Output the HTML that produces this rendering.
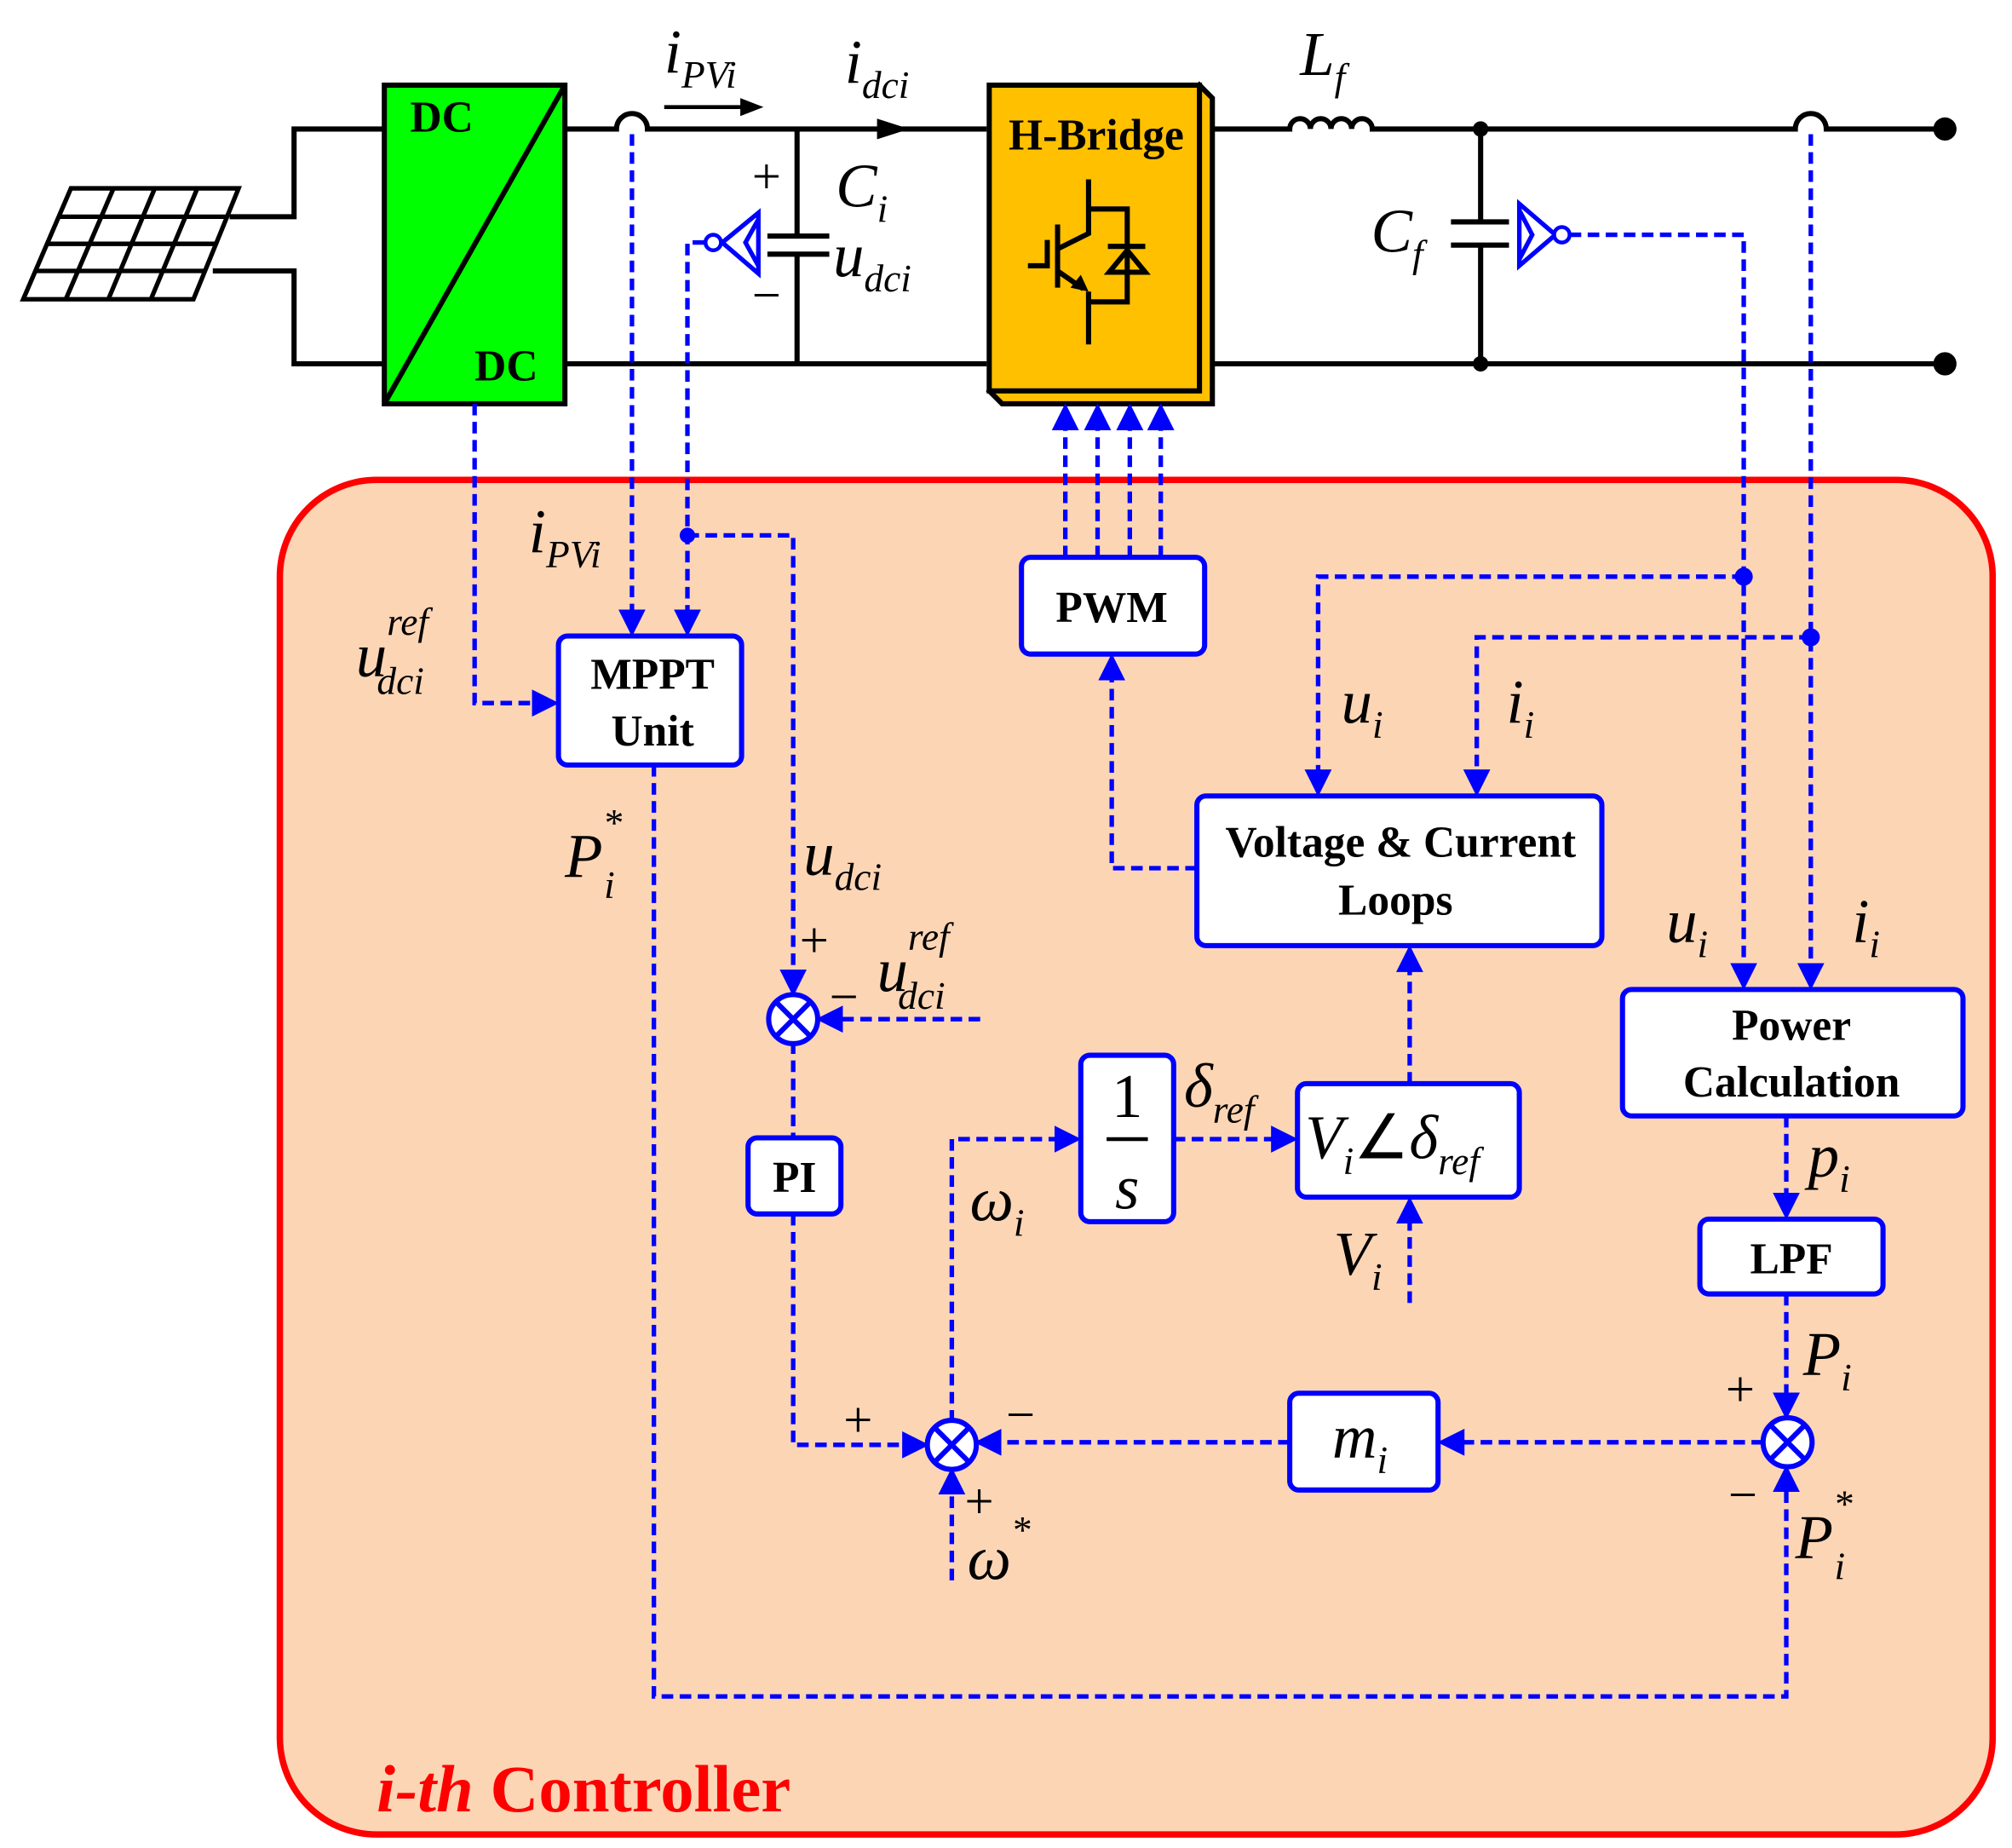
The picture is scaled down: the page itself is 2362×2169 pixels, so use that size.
<!DOCTYPE html>
<html><head><meta charset="utf-8"><style>
html,body{margin:0;padding:0;background:#fff;}
svg{display:block;}
text{font-family:"Liberation Serif",serif;}
.i{font-style:italic;font-size:48px;}
.s{font-style:italic;font-size:30px;}
.b{font-weight:bold;font-size:34px;}
.pm{font-size:40px;}
.d{stroke:#0000ff;stroke-width:3.5;stroke-dasharray:9 5;fill:none;}
.w{stroke:#000;stroke-width:4;fill:none;}
.blk{fill:#fff;stroke:#0000ff;stroke-width:4;}
</style></head><body>
<svg width="2362" height="2169" viewBox="0 0 1560 1432.5" preserveAspectRatio="none" xmlns="http://www.w3.org/2000/svg">
<defs>
<marker id="a" markerWidth="6" markerHeight="6" refX="5" refY="3" orient="auto" markerUnits="strokeWidth"><path d="M0,0 L6,3 L0,6 z" fill="#0000ff"/></marker>
</defs>
<rect x="217" y="372" width="1328" height="1050" rx="75" fill="#fcd5b5" stroke="#ff0000" stroke-width="5"/>
<text x="292" y="1404" font-size="52" font-weight="bold" fill="#ff0000"><tspan font-style="italic">i-th</tspan> Controller</text>

<g stroke="#000" stroke-width="3.5" fill="#fff">
<path d="M55,146 L185,146 L150,232 L18,232 Z"/>
<path d="M88,146 L51,232 M120,146 L84,232 M153,146 L117,232 M46,168 L176,168 M37,189 L167,189 M28,210 L159,210" fill="none"/>
</g>
<path class="w" d="M178,168 H228 V100 H298 M165,210 H228 V282 H298"/>
<rect x="298" y="66" width="140" height="247" fill="#00ff00" stroke="#000" stroke-width="4"/>
<line x1="298" y1="313" x2="438" y2="66" stroke="#000" stroke-width="4"/>
<text x="318" y="102" class="b">DC</text>
<text x="368" y="295" class="b">DC</text>
<path class="w" d="M438,100 H478 A12,12 0 0 1 502,100 H765 M438,282 H765"/>
<path d="M515,83 H580" stroke="#000" stroke-width="3"/><path d="M592,83 L574,76 L574,90 Z"/>
<path d="M705,100 L680,92 L680,108 Z"/>
<text x="515" y="56" class="i">i<tspan class="s" dy="12">PVi</tspan></text>
<text x="655" y="64" class="i">i<tspan class="s" dy="12">dci</tspan></text>
<path class="w" d="M618,100 V183 M618,197 V282 M595,183 H643 M595,197 H643" stroke-width="5"/>
<text x="583" y="150" class="pm">+</text>
<text x="583" y="242" class="pm">−</text>
<text x="648" y="160" class="i">C<tspan class="s" dy="12">i</tspan></text>
<text x="646" y="214" class="i">u<tspan class="s" dy="12">dci</tspan></text>
<path d="M588,165 V212 L560,188 Z M588,170 L578,188 588,206" fill="none" stroke="#0000ff" stroke-width="3.5"/>
<circle cx="553" cy="188" r="6" fill="#fff" stroke="#0000ff" stroke-width="3"/>
<path d="M930,66 L940,76 V313 H777 L767,303 Z" fill="#ffc000" stroke="#000" stroke-width="4"/>
<rect x="767" y="66" width="163" height="237" fill="#ffc000" stroke="#000" stroke-width="4"/>
<text x="850" y="116" class="b" font-size="30" text-anchor="middle">H-Bridge</text>
<g stroke="#000" stroke-width="4" fill="none">
<path d="M844,139 V181 L820,193 M820,174 V223 M797,206 H812 V186 M820,210 L840,224 M844,226 V267 M844,162 H874 V234 H844 M859,191 H888"/>
<path d="M874,194 L888,211 H860 Z"/>
</g>
<path d="M844,226 L830,223 L838,213 Z"/>
<path class="w" d="M940,100 H1000 A8,8 0 0 1 1016,100 A8,8 0 0 1 1032,100 A8,8 0 0 1 1048,100 A8,8 0 0 1 1064,100 H1392 A12,12 0 0 1 1416,100 H1508 M940,282 H1508"/>
<text x="1008" y="58" class="i">L<tspan class="s" dy="12">f</tspan></text>
<path class="w" d="M1148,100 V172 M1148,190 V282 M1125,172 H1170 M1125,190 H1170" stroke-width="5"/>
<circle cx="1148" cy="100" r="6"/><circle cx="1148" cy="282" r="6"/>
<circle cx="1508" cy="100" r="9"/><circle cx="1508" cy="282" r="9"/>
<text x="1063" y="195" class="i">C<tspan class="s" dy="12">f</tspan></text>
<path d="M1178,158 V206 L1206,182 Z M1178,163 L1188,182 1178,201" fill="none" stroke="#0000ff" stroke-width="3.5"/>
<circle cx="1211" cy="182" r="6" fill="#fff" stroke="#0000ff" stroke-width="3"/>

<path class="d" d="M368,313 V545 H430" marker-end="url(#a)"/>
<path class="d" d="M490,104 V490" marker-end="url(#a)"/>
<path class="d" d="M546,188 H533 V490" marker-end="url(#a)"/>
<path class="d" d="M533,415 H615 V769" marker-end="url(#a)"/>
<circle cx="533" cy="415" r="6" fill="#0000ff"/>
<path class="d" d="M760,790 H636" marker-end="url(#a)"/>
<path class="d" d="M615,808 V882"/>
<path class="d" d="M615,941 V1120 H717" marker-end="url(#a)"/>
<path class="d" d="M738,1225 V1141" marker-end="url(#a)"/>
<path class="d" d="M738,1102 V883 H835" marker-end="url(#a)"/>
<path class="d" d="M910,883 H1003" marker-end="url(#a)"/>
<path class="d" d="M1093,1010 V931" marker-end="url(#a)"/>
<path class="d" d="M1093,840 V736" marker-end="url(#a)"/>
<path class="d" d="M928,673 H862 V510" marker-end="url(#a)"/>
<path class="d" d="M826,432 V316" marker-end="url(#a)"/>
<path class="d" d="M851,432 V316" marker-end="url(#a)"/>
<path class="d" d="M876,432 V316" marker-end="url(#a)"/>
<path class="d" d="M900,432 V316" marker-end="url(#a)"/>
<path class="d" d="M1217,182 H1352 V764" marker-end="url(#a)"/>
<path class="d" d="M1352,447 H1022 V614" marker-end="url(#a)"/>
<circle cx="1352" cy="447" r="7" fill="#0000ff"/>
<path class="d" d="M1404,104 V764" marker-end="url(#a)"/>
<path class="d" d="M1404,494 H1145 V614" marker-end="url(#a)"/>
<circle cx="1404" cy="494" r="7" fill="#0000ff"/>
<path class="d" d="M1385,865 V942" marker-end="url(#a)"/>
<path class="d" d="M1385,1003 V1097" marker-end="url(#a)"/>
<path class="d" d="M1367,1118 H1118" marker-end="url(#a)"/>
<path class="d" d="M1000,1118 H759" marker-end="url(#a)"/>
<path class="d" d="M507,593 V1315 H1385 V1139" marker-end="url(#a)"/>

<rect class="blk" x="433" y="493" width="142" height="100" rx="7"/>
<text x="506" y="534" class="b" text-anchor="middle">MPPT</text>
<text x="506" y="578" class="b" text-anchor="middle">Unit</text>
<rect class="blk" x="792" y="432" width="142" height="75" rx="7"/>
<text x="862" y="482" class="b" text-anchor="middle">PWM</text>
<rect class="blk" x="928" y="617" width="314" height="116" rx="7"/>
<text x="1086" y="664" class="b" text-anchor="middle">Voltage &amp; Current</text>
<text x="1082" y="709" class="b" text-anchor="middle">Loops</text>
<rect class="blk" x="1258" y="767" width="264" height="98" rx="7"/>
<text x="1389" y="806" class="b" text-anchor="middle">Power</text>
<text x="1389" y="850" class="b" text-anchor="middle">Calculation</text>
<rect class="blk" x="1318" y="945" width="142" height="58" rx="7"/>
<text x="1389" y="987" class="b" text-anchor="middle">LPF</text>
<rect class="blk" x="580" y="882" width="72" height="59" rx="7"/>
<text x="616" y="924" class="b" text-anchor="middle">PI</text>
<rect class="blk" x="838" y="818" width="72" height="129" rx="7"/>
<text x="874" y="866" font-size="48" text-anchor="middle">1</text>
<line x1="858" y1="883" x2="890" y2="883" stroke="#000" stroke-width="3"/>
<text x="874" y="937" class="i" text-anchor="middle">s</text>
<rect class="blk" x="1006" y="840" width="172" height="88" rx="7"/>
<text x="1012" y="898" class="i">V<tspan class="s" dy="12">i</tspan><tspan dy="-12" font-style="normal">∠</tspan>δ<tspan class="s" dy="12">ref</tspan></text>
<rect class="blk" x="1000" y="1080" width="115" height="75" rx="7"/>
<text x="1033" y="1130" class="i">m<tspan class="s" dy="12">i</tspan></text>

<g fill="#fff" stroke="#0000ff" stroke-width="4">
<circle cx="615" cy="790" r="19"/><circle cx="738" cy="1120" r="19"/><circle cx="1386" cy="1118" r="19"/>
</g>
<g stroke="#0000ff" stroke-width="4">
<path d="M602,777 L628,803 M628,777 L602,803"/>
<path d="M725,1107 L751,1133 M751,1107 L725,1133"/>
<path d="M1373,1105 L1399,1131 M1399,1105 L1373,1131"/>
</g>

<text x="410" y="428" class="i">i<tspan class="s" dy="12">PVi</tspan></text>
<text x="276" y="524" class="i">u<tspan class="s" dy="-32">ref</tspan><tspan class="s" dx="-40" dy="46">dci</tspan></text>
<text x="438" y="680" class="i">P<tspan class="s" dy="-32">*</tspan><tspan class="s" dx="-14" dy="48">i</tspan></text>
<text x="623" y="678" class="i">u<tspan class="s" dy="12">dci</tspan></text>
<text x="620" y="742" class="pm">+</text>
<text x="643" y="786" class="pm">−</text>
<text x="680" y="768" class="i">u<tspan class="s" dy="-32">ref</tspan><tspan class="s" dx="-40" dy="46">dci</tspan></text>
<text x="752" y="946" class="i">ω<tspan class="s" dy="12">i</tspan></text>
<text x="918" y="858" class="i">δ<tspan class="s" dy="12">ref</tspan></text>
<text x="1034" y="988" class="i">V<tspan class="s" dy="12">i</tspan></text>
<text x="1040" y="560" class="i">u<tspan class="s" dy="12">i</tspan></text>
<text x="1168" y="560" class="i">i<tspan class="s" dy="12">i</tspan></text>
<text x="1292" y="730" class="i">u<tspan class="s" dy="12">i</tspan></text>
<text x="1436" y="730" class="i">i<tspan class="s" dy="12">i</tspan></text>
<text x="1402" y="912" class="i">p<tspan class="s" dy="12">i</tspan></text>
<text x="1398" y="1066" class="i">P<tspan class="s" dy="12">i</tspan></text>
<text x="1338" y="1090" class="pm">+</text>
<text x="1340" y="1172" class="pm">−</text>
<text x="1392" y="1208" class="i">P<tspan class="s" dy="-32">*</tspan><tspan class="s" dx="-14" dy="48">i</tspan></text>
<text x="654" y="1114" class="pm">+</text>
<text x="780" y="1110" class="pm">−</text>
<text x="748" y="1177" class="pm">+</text>
<text x="750" y="1224" class="i">ω<tspan class="s" dy="-28">*</tspan></text>
</svg>
</body></html>
